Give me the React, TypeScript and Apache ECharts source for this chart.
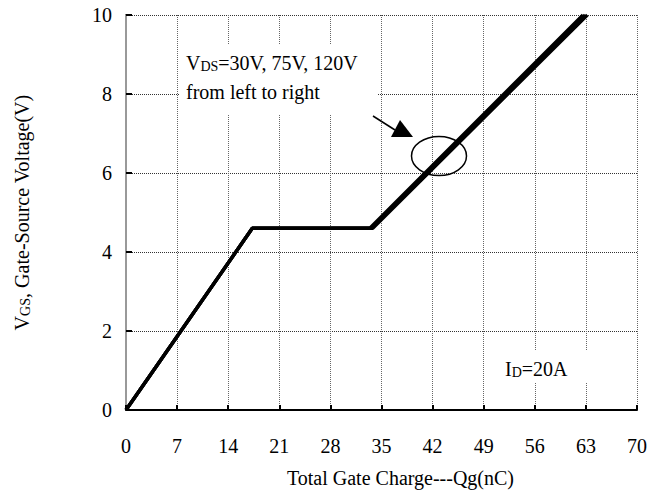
import React, { useEffect, useRef } from "react";
import * as echarts from "echarts";

const xTicks = [0, 7, 14, 21, 28, 35, 42, 49, 56, 63, 70];
const yTicks = [0, 2, 4, 6, 8, 10];
const seriesNames = ["VDS=30V", "VDS=75V", "VDS=120V"];
const curve30: [number, number][] = [[0, 0], [17.3, 4.6], [33.4, 4.6], [62.6, 10]];
const curve75: [number, number][] = [[0, 0], [17.3, 4.6], [33.6, 4.6], [62.9, 10]];
const curve120: [number, number][] = [[0, 0], [17.3, 4.6], [33.8, 4.6], [63.2, 10]];

const FONT = "Liberation Serif";

export default function App() {
  const ref = useRef<HTMLDivElement>(null);
  useEffect(() => {
    document.body.style.margin = "0";
    const chart = echarts.init(ref.current!, null, { renderer: "svg" });
    const curves = [curve30, curve75, curve120];
    chart.setOption({
      animation: false,
      backgroundColor: "#fff",
      grid: { left: 126, right: 24, top: 15, bottom: 87, outerBoundsMode: "none" },
      xAxis: {
        type: "value",
        min: xTicks[0],
        max: xTicks[xTicks.length - 1],
        interval: 7,
        name: "Total Gate Charge---Qg(nC)",
        nameLocation: "middle",
        nameGap: 58,
        nameTextStyle: { fontFamily: FONT, fontSize: 20, color: "#000", padding: [0, 0, 0, 38] },
        axisLine: { show: true, onZero: false, lineStyle: { color: "#000", width: 2 } },
        axisTick: { show: true, inside: true, length: 5, lineStyle: { color: "#000", width: 2 } },
        axisLabel: { fontFamily: FONT, fontSize: 20, color: "#000", margin: 26 },
        splitLine: { show: true, lineStyle: { type: "dotted", color: "#666", width: 1 } },
      },
      yAxis: [
        {
          type: "value",
          min: yTicks[0],
          max: yTicks[yTicks.length - 1],
          interval: 2,
          name: "{a|V}{b|GS}{a|, Gate-Source Voltage(V)}",
          nameLocation: "middle",
          nameGap: 94,
          nameRotate: 90,
          nameTextStyle: {
            rich: {
              a: { fontFamily: FONT, fontSize: 20, color: "#000", verticalAlign: "bottom", lineHeight: 22 },
              b: { fontFamily: FONT, fontSize: 14, color: "#000", verticalAlign: "bottom", lineHeight: 22 },
            },
          },
          axisLine: { show: true, onZero: false, lineStyle: { color: "#000", width: 2 } },
          axisTick: { show: true, inside: true, length: 6, lineStyle: { color: "#000", width: 2 } },
          axisLabel: { fontFamily: FONT, fontSize: 20, color: "#000", margin: 14 },
          splitLine: { show: true, lineStyle: { type: "dotted", color: "#333", width: 1 } },
        },
        {
          type: "value",
          position: "right",
          min: yTicks[0],
          max: yTicks[yTicks.length - 1],
          interval: 2,
          axisLine: { show: true, lineStyle: { color: "#999", width: 2 } },
          axisTick: { show: false },
          axisLabel: { show: false },
          splitLine: { show: false },
        },
      ],
      series: curves.map((d, i) => ({
        name: seriesNames[i],
        type: "line",
        data: d,
        showSymbol: false,
        symbol: "none",
        lineStyle: { color: "#000", width: 3.4 },
        z: 5,
      })),
      graphic: [
        { type: "rect", shape: { x: 180, y: 45, width: 197, height: 70 }, style: { fill: "#fff" }, z: 3 },
        {
          type: "text",
          x: 186,
          y: 44,
          z: 4,
          style: {
            text: "{a|V}{b|DS}{a|=30V, 75V, 120V}\n{a|from left to right}",
            rich: {
              a: { fontFamily: FONT, fontSize: 20, fill: "#000", verticalAlign: "bottom", lineHeight: 29 },
              b: { fontFamily: FONT, fontSize: 14, fill: "#000", verticalAlign: "bottom", lineHeight: 29 },
            },
          },
        },
        { type: "rect", shape: { x: 495, y: 350, width: 105, height: 32 }, style: { fill: "#fff" }, z: 3 },
        {
          type: "text",
          x: 505,
          y: 353,
          z: 4,
          style: {
            text: "{a|I}{b|D}{a|=20A}",
            rich: {
              a: { fontFamily: FONT, fontSize: 20, fill: "#000", verticalAlign: "bottom", lineHeight: 26 },
              b: { fontFamily: FONT, fontSize: 14, fill: "#000", verticalAlign: "bottom", lineHeight: 26 },
            },
          },
        },
        { type: "line", z: 6, shape: { x1: 373, y1: 116, x2: 395, y2: 130 }, style: { stroke: "#000", lineWidth: 1.5 } },
        { type: "polygon", z: 6, shape: { points: [[400, 120], [391, 137], [413, 137]] }, style: { fill: "#000" } },
        { type: "ellipse", z: 6, shape: { cx: 439, cy: 156, rx: 27.5, ry: 19.5 }, style: { fill: "none", stroke: "#000", lineWidth: 1.5 } },
      ],
    });
    return () => chart.dispose();
  }, []);
  return <div ref={ref} style={{ width: 661, height: 497 }} />;
}
